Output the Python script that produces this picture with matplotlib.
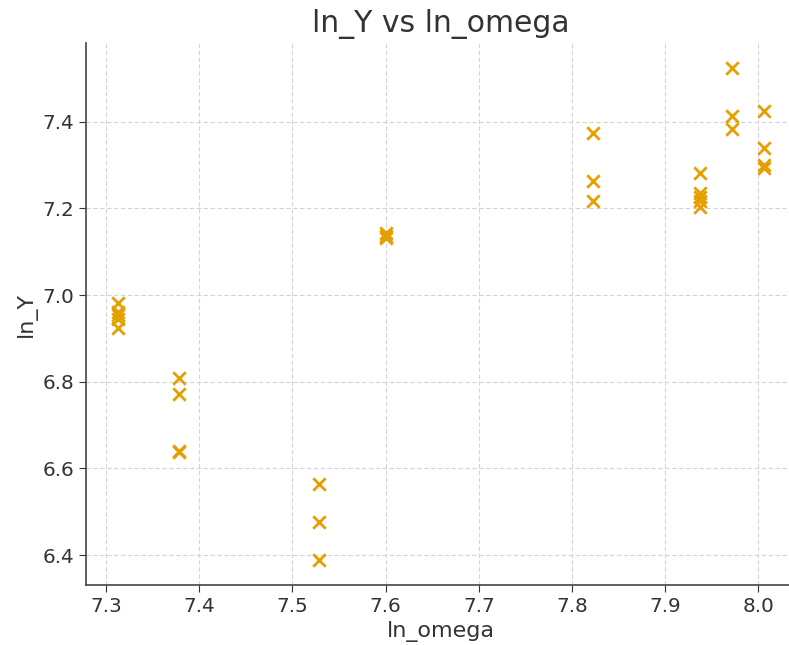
import matplotlib
matplotlib.use("Agg")
import numpy as np
import matplotlib.pyplot as plt

# ── Data ───────────────────────────────────────────────────────────────────
LN_OMEGA = [7.313, 7.313, 7.313, 7.313, 7.313,
            7.378, 7.378, 7.378, 7.378,
            7.529, 7.529, 7.529,
            7.600, 7.600, 7.600,
            7.823, 7.823, 7.823,
            7.938, 7.938, 7.938, 7.938, 7.938,
            7.972, 7.972, 7.972,
            8.006, 8.006, 8.006, 8.006]
LN_Y = [6.981, 6.962, 6.954, 6.944, 6.923,
        6.808, 6.771, 6.641, 6.637,
        6.564, 6.477, 6.388,
        7.142, 7.137, 7.132,
        7.373, 7.263, 7.217,
        7.281, 7.235, 7.227, 7.216, 7.203,
        7.524, 7.413, 7.383,
        7.424, 7.340, 7.300, 7.293]

TEXT = '#333333'
MARK = '#E69F00'

fig = plt.figure(figsize=(7.89, 6.45), dpi=100)
# axes runs slightly past the right edge, as in the (cropped) reference
ax = fig.add_axes([0.109, 0.093, 0.900, 0.840])

ax.scatter(LN_OMEGA, LN_Y, marker='x', s=80, linewidths=2.0, color=MARK, zorder=3)

ax.set_title('ln_Y vs ln_omega', fontsize=21.5, color=TEXT, pad=8)
ax.set_xlabel('ln_omega', fontsize=16, color=TEXT)
ax.set_ylabel('ln_Y', fontsize=16, color=TEXT)

ax.grid(True, linestyle=(0, (4, 2.2)), color='#d4d4d4', linewidth=0.8)
ax.set_axisbelow(True)
ax.tick_params(labelsize=14.4, colors=TEXT, length=5)
for side in ('top', 'right'):
    ax.spines[side].set_visible(False)
for side in ('left', 'bottom'):
    ax.spines[side].set_color('#444444')
    ax.spines[side].set_linewidth(1.2)

fig.savefig('out.png', dpi=100)
